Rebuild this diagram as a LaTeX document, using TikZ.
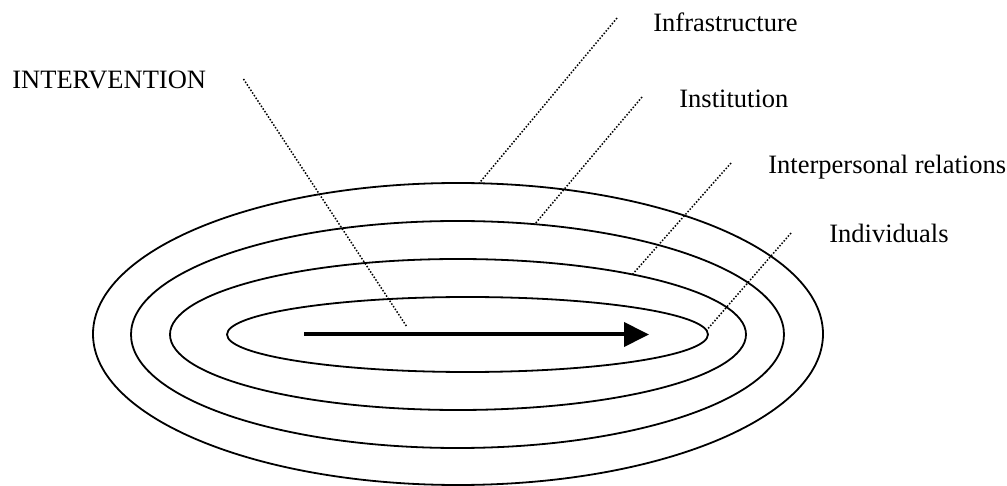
\documentclass[tikz,border=0pt]{standalone}
\usepackage{fontspec}
\setmainfont{Liberation Serif}
\usetikzlibrary{arrows.meta, shapes.geometric}

\begin{document}
\begin{tikzpicture}[
    x=0.5pt, y=-0.5pt,
    ring/.style={draw, ellipse, line width=0.9pt, inner sep=0pt, outer sep=0pt},
    lbl/.style={font=\fontsize{13.25}{16}\selectfont, anchor=base west, inner sep=0pt},
    leader/.style={line width=0.75pt, dash pattern=on 0.75pt off 0.85pt},
    myarrow/.style={-{Triangle[length=12.5pt, width=12pt]}, line width=2pt},
]
\useasboundingbox (0,0) rectangle (1007,486);

% ===================== RINGS =====================
\node[ring, minimum width=365pt, minimum height=151pt] (infraR) at (458, 334) {};
\node[ring, minimum width=326.5pt, minimum height=113.5pt] (instR) at (457.5, 334.5) {};
\node[ring, minimum width=288pt, minimum height=75.5pt] (persR) at (458, 334.5) {};
\node[ring, minimum width=240.5pt, minimum height=37.5pt] (indivR) at (467.5, 334.5) {};

% Intervention arrow through the middle
\coordinate (arrS) at (304, 334.5);
\coordinate (arrE) at (649, 334.5);
\draw[myarrow] (arrS) -- (arrE);
\coordinate (hit) at (407, 327);

% ===================== LABELS =====================
\node[lbl] (interv) at (12, 89) {INTERVENTION};
\node[lbl] (infra) at (653, 32) {Infrastructure};
\node[lbl] (inst) at (679, 108) {Institution};
\node[lbl] (pers) at (768, 174) {Interpersonal relations};
\node[lbl] (indiv) at (829, 243) {Individuals};

% Leaders
\draw[leader] ([xshift=18.5pt, yshift=5pt]interv.base east) -- (hit);
\draw[leader] ([xshift=-18pt, yshift=7pt]infra.base west) -- (infraR.82);
\draw[leader] ([xshift=-18.5pt, yshift=5.5pt]inst.base west) -- (instR.55);
\draw[leader] ([xshift=-18.5pt, yshift=5.5pt]pers.base west) -- (persR.19);
\draw[leader] ([xshift=-19pt, yshift=5pt]indiv.base west) -- (indivR.1.5);

\end{tikzpicture}
\end{document}
